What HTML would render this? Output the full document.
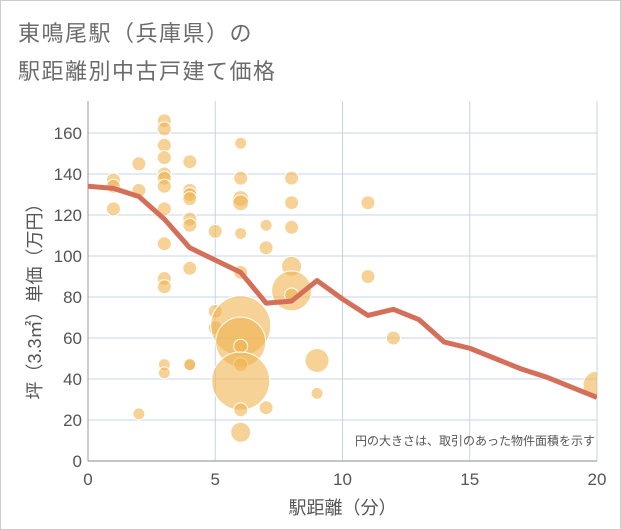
<!DOCTYPE html>
<html><head><meta charset="utf-8"><style>
body{margin:0;background:#fff;font-family:"Liberation Sans","Noto Sans CJK JP",sans-serif}
#wrap{position:relative;width:619px;height:528px;border:1px solid #ccc;overflow:hidden}
.title{position:absolute;left:17px;font-size:22px;color:#6b6b6b;letter-spacing:1.5px}
</style></head><body>
<div id="wrap">
<div class="title" style="top:15px">東鳴尾駅（兵庫県）の</div>
<div class="title" style="top:53px">駅距離別中古戸建て価格</div>
<svg id="chart" width="621" height="530" style="position:absolute;left:0;top:0"></svg>
</div>
<script>
const xTicks=[0,5,10,15,20];
const yTicks=[0,20,40,60,80,100,120,140,160];
const lineX=[0,1,2,3,4,5,6,7,8,9,10,11,12,13,14,15,16,17,18,19,20];
const lineY=[134,133,129,118,104,98,92,77,78,88,79,71,74,69,58,55,50,45,41,36,31];
const bubX=[1,1,1,2,2,2,3,3,3,3,3,3,3,3,3,3,3,3,3,4,4,4,4,4,4,4,4,4,5,5,5,6,6,6,6,6,6,6,6,6,6,6,6,6,7,7,7,8,8,8,8,8,8,9,9,11,11,12,20];
const bubY=[137,134,123,145,132,23,166,162,154,148,140,138,134,123,106,89,85,47,43,146,132,130,128,118,115,94,47,47,112,73,65,155,138,128,126,111,92,66,58,56,47,39,25,14,115,104,26,138,126,114,95,83,81,49,33,126,90,60,37];
const bubR=[7,7,7,7,7,6,7,7,7,7,7,7,7,7,7,7,7,6,6,7,7,7,7,7,7,7,6,6,7,7,7,6,7,8,8,6,7,30,25,7,7,29,7,10,6,7,7,7,7,7,10,20,7,12,6,7,7,7,14];
const L=87,R=596,T=100,B=460;
const sx=v=>L+v/20*(R-L), sy=v=>B-v/160*(B-132);
const svg=document.getElementById('chart');const NS='http://www.w3.org/2000/svg';
function mk(t,a,p){const e=document.createElementNS(NS,t);for(const k in a)e.setAttribute(k,a[k]);(p||svg).appendChild(e);return e;}
const clip=mk('clipPath',{id:'c'});mk('rect',{x:L,y:T,width:R-L,height:B-T},clip);
yTicks.forEach(v=>{const l=mk('line',{x1:L,x2:R,y1:sy(v),y2:sy(v),stroke:'#dbe4ee','stroke-width':1.5});

const t=mk('text',{x:L-6,y:sy(v)+6,'text-anchor':'end','font-size':17,fill:'#555'});t.textContent=v;
});
xTicks.forEach(v=>{if(v>0){const l=mk('line',{x1:sx(v),x2:sx(v),y1:T,y2:B,stroke:'#c9d3de','stroke-width':1});
}
const t=mk('text',{x:sx(v),y:484,'text-anchor':'middle','font-size':17,fill:'#555'});t.textContent=v;
});
const ax=mk('path',{d:`M${L} ${T}V${B}H${R}`,fill:'none',stroke:'#999','stroke-width':1});

const g=mk('g',{'clip-path':'url(#c)'});
bubX.forEach((x,i)=>{const c=mk('circle',{cx:sx(x),cy:sy(bubY[i]),r:bubR[i],fill:'rgba(240,180,80,0.6)',stroke:'#fff','stroke-width':1},g);
});
const pl=mk('polyline',{points:lineX.map((x,i)=>sx(x)+','+sy(lineY[i])).join(' '),fill:'none',stroke:'#d4705a','stroke-width':5,'stroke-linejoin':'round'},g);

const n=mk('text',{x:594,y:444,'text-anchor':'end','font-size':12,fill:'#555'});n.textContent='円の大きさは、取引のあった物件面積を示す';

const xt=mk('text',{x:sx(10),y:513,'text-anchor':'middle','font-size':18,fill:'#555'});xt.textContent='駅距離（分）';

const yt=mk('text',{x:0,y:0,'text-anchor':'middle','font-size':18,fill:'#555',transform:`translate(40,${sy(80)}) rotate(-90)`});yt.textContent='坪（3.3㎡）単価（万円）';

</script>
</body></html>
